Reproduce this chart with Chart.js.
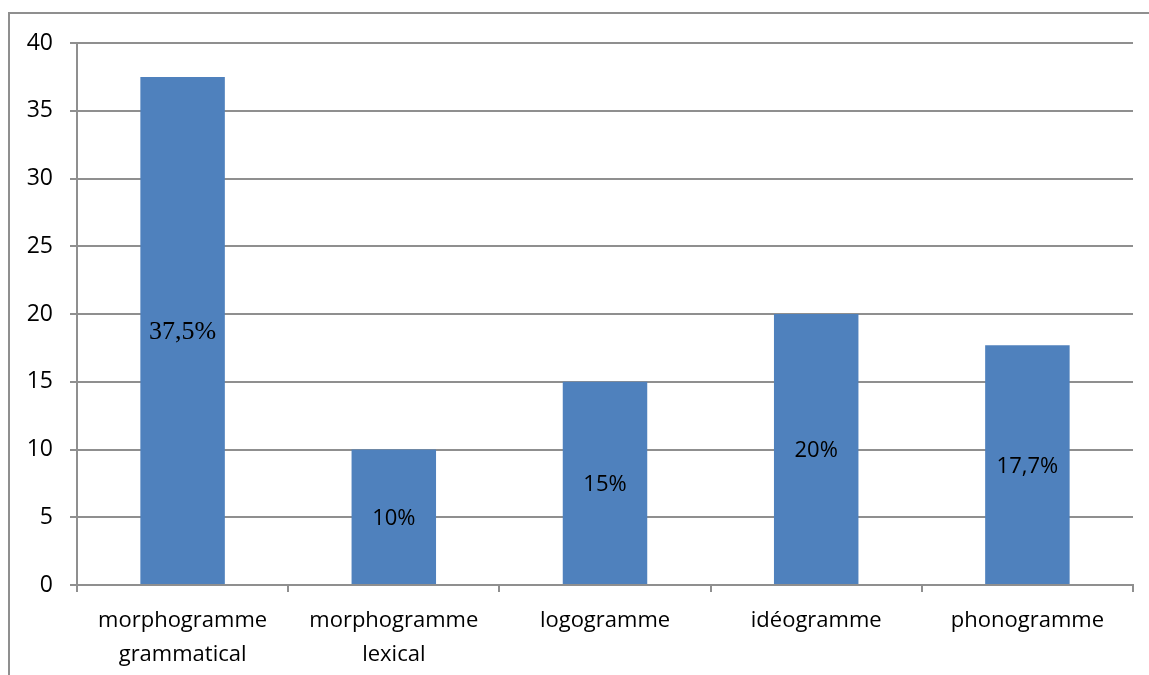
<!DOCTYPE html>
<html>
<head>
<meta charset="utf-8">
<script src="https://cdn.jsdelivr.net/npm/chart.js@4/dist/chart.umd.min.js"></script>
<style>
    html, body { margin: 0; padding: 0; background: #fff; }
    #wrap { position: relative; width: 1149px; height: 675px; }
    #frame {
        position: absolute; left: 8px; top: 12px; right: -5px; bottom: -5px;
        border-left: 2px solid #8f8f8f; border-top: 2px solid #8f8f8f;
    }
    #barChart { position: absolute; left: 0; top: 0; }
</style>
</head>
<body>
<div id="wrap">
    <div id="frame"></div>
    <canvas id="barChart" width="1149" height="675"></canvas>
</div>
<script>
const categories = [
    ['morphogramme', 'grammatical'],
    ['morphogramme', 'lexical'],
    'logogramme',
    'idéogramme',
    'phonogramme'
];
const values = [37.5, 10, 15, 20, 17.7];
const valueLabels = ['37,5%', '10%', '15%', '20%', '17,7%'];
const labelFonts = ['serif', 'sans', 'sans', 'sans', 'sans'];

const SANS = '"Open Sans", "Noto Sans", sans-serif';
const SERIF = '"Liberation Serif", "DejaVu Serif", serif';
const GRID = '#8f8f8f';

// writes the percent label in the middle of each bar
const barLabels = {
    id: 'barLabels',
    afterDatasetsDraw(chart) {
        const ctx = chart.ctx;
        const meta = chart.getDatasetMeta(0);
        ctx.save();
        ctx.fillStyle = '#000';
        ctx.textAlign = 'center';
        ctx.textBaseline = 'middle';
        meta.data.forEach((bar, i) => {
            const mid = (bar.y + bar.base) / 2;
            ctx.font = labelFonts[i] === 'serif' ? '26px ' + SERIF : '22px ' + SANS;
            ctx.fillText(valueLabels[i], bar.x, mid + 2);
        });
        ctx.restore();
    }
};

function draw() {
    new Chart(document.getElementById('barChart'), {
        type: 'bar',
        data: {
            labels: categories,
            datasets: [{
                data: values,
                backgroundColor: '#4f81bd',
                borderWidth: 0,
                categoryPercentage: 1,
                barPercentage: 0.4
            }]
        },
        options: {
            responsive: false,
            animation: false,
            events: [],
            layout: { padding: { top: 43, right: 16, left: 0, bottom: 0 } },
            plugins: {
                legend: { display: false },
                tooltip: { enabled: false }
            },
            scales: {
                x: {
                    grid: {
                        offset: true,
                        drawOnChartArea: false,
                        drawTicks: true,
                        tickLength: 7,
                        color: GRID,
                        lineWidth: 2
                    },
                    border: { display: true, color: GRID, width: 2 },
                    ticks: {
                        color: '#000',
                        padding: 12,
                        maxRotation: 0,
                        autoSkip: false,
                        font: { family: SANS, size: 22, lineHeight: 1.55 }
                    },
                    afterFit(scale) { scale.height = 90; }
                },
                y: {
                    min: 0,
                    max: 40,
                    ticks: {
                        stepSize: 5,
                        color: '#000',
                        padding: 17,
                        font: { family: SANS, size: 23 }
                    },
                    grid: {
                        color: GRID,
                        lineWidth: 2,
                        drawTicks: true,
                        tickLength: 7
                    },
                    border: { display: true, color: GRID, width: 2 },
                    afterFit(scale) { scale.width = 77; }
                }
            }
        },
        plugins: [barLabels]
    });
}

Promise.all([
    document.fonts.load('26px "Liberation Serif"'),
    document.fonts.load('22px "Open Sans"')
]).then(draw, draw);
</script>
</body>
</html>
